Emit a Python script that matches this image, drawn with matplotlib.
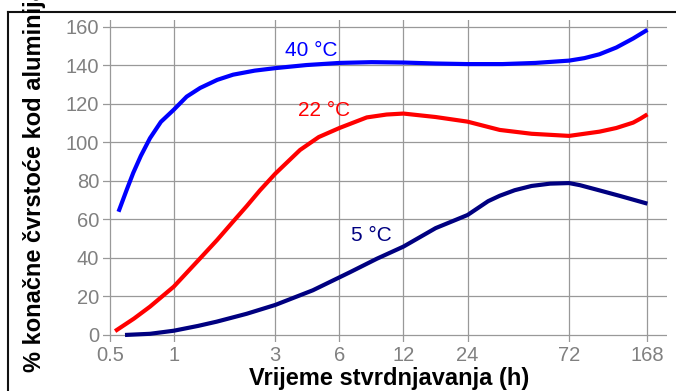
import matplotlib.pyplot as plt
from matplotlib.lines import Line2D
from matplotlib.ticker import FixedLocator, NullLocator

plt.rcParams["font.family"] = ["Liberation Sans", "DejaVu Sans"]

# curing time (h) vs. % of final strength, one series per temperature
hours_40 = [0.55, 0.6, 0.645, 0.7, 0.773, 0.87, 1.0, 1.15, 1.33, 1.6, 1.9, 2.4, 3, 4.2,
            6, 8.5, 12, 17, 24, 35, 50, 72, 85, 100, 120, 144, 168]
strength_40 = [64, 75.2, 84.2, 93.0, 102.2, 110.7, 117.0, 123.8, 128.3, 132.5, 135.2, 137.3, 138.6, 140.2,
               141.3, 141.7, 141.5, 141.0, 140.7, 140.7, 141.3, 142.5, 143.8, 145.8, 149.3, 154.0, 158.5]

hours_22 = [0.53, 0.65, 0.773, 1.0, 1.33, 1.6, 1.9, 2.2, 2.54, 3, 3.92, 4.8, 6, 8.07, 10,
            12, 17, 24, 34, 48, 72, 100, 120, 144, 156, 168]
strength_22 = [2, 8.5, 14.7, 25.1, 39.8, 49.4, 58.9, 66.9, 75.1, 83.8, 96.1, 102.8, 107.5, 113.0, 114.5,
               115.0, 113.2, 110.8, 106.5, 104.5, 103.4, 105.6, 107.5, 110.3, 112.4, 114.6]

hours_5 = [0.59, 0.773, 1.0, 1.3, 1.59, 2.2, 3, 4.5, 6.73, 9, 12, 17, 24, 30, 34, 40,
           48, 58.6, 72, 81, 100, 125, 168]
strength_5 = [0, 0.6, 2.2, 4.7, 6.9, 11.0, 15.6, 23.2, 32.6, 39.6, 45.9, 55.5, 62.3, 69.5, 72.3, 75.2,
              77.4, 78.6, 78.9, 77.8, 75.1, 72.2, 68.2]

x_ticks = [0.5, 1, 3, 6, 12, 24, 72, 168]
x_tick_labels = ["0.5", "1", "3", "6", "12", "24", "72", "168"]
y_ticks = [0, 20, 40, 60, 80, 100, 120, 140, 160]

series = [
    (hours_40, strength_40, "#0000ff", "40 °C", (4.44, 147.5)),
    (hours_22, strength_22, "#ff0000", "22 °C", (5.10, 116.4)),
    (hours_5, strength_5, "#000080", "5 °C", (8.51, 51.9)),
]

W, H = 676, 391
fig = plt.figure(figsize=(W / 100, H / 100), dpi=100)
ax = fig.add_axes([102.7 / W, 1 - 341.7 / H, (666.7 - 102.7) / W, (341.7 - 20) / H])

ax.set_xscale("log")
ax.set_xlim(0.4635, 207)
ax.set_ylim(-3.5, 163.6)
ax.xaxis.set_major_locator(FixedLocator(x_ticks))
ax.xaxis.set_minor_locator(NullLocator())
ax.set_xticklabels(x_tick_labels)
ax.set_yticks(y_ticks)

ax.grid(True, color="#999999", linewidth=0.9)
ax.set_axisbelow(True)
for s in ax.spines.values():
    s.set_visible(False)
ax.tick_params(length=0, labelsize=14.5, labelcolor="#808080")
ax.tick_params(axis="y", pad=2.5)
ax.tick_params(axis="x", pad=3)

for hrs, vals, col, lab, (tx, ty) in series:
    ax.plot(hrs, vals, color=col, linewidth=3, solid_capstyle="butt",
            solid_joinstyle="round")
    ax.text(tx, ty, lab, color=col, fontsize=15, ha="center", va="center")

ax.set_xlabel("Vrijeme stvrdnjavanja (h)", fontsize=17, fontweight="bold")
ax.xaxis.set_label_coords(0.5076, -0.113)
ax.xaxis.label.set_va("center")

fig.text(35 / W, 1 - 371.7 / H, "% konačne čvrstoće kod aluminija", rotation=90,
         fontsize=17, fontweight="bold", ha="center", va="bottom")

# outer frame (top and left edges)
fig.add_artist(Line2D([8.3 / W, 8.3 / W], [0, 1 - 12.3 / H], color="#111111",
                      linewidth=1.5, transform=fig.transFigure))
fig.add_artist(Line2D([8.3 / W, 1], [1 - 12.3 / H, 1 - 12.3 / H], color="#111111",
                      linewidth=1.5, transform=fig.transFigure))

fig.savefig("out.png", dpi=100)
